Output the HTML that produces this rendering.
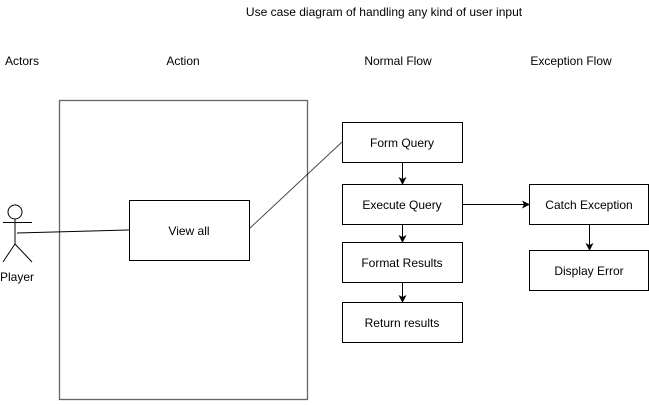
<!DOCTYPE html>
<html><head><style>body{margin:0;background:#fff}</style></head><body>
<svg width="649" height="401" xmlns="http://www.w3.org/2000/svg" font-family="Liberation Sans, Arial, sans-serif" font-size="12" fill="#000">
<defs><marker id="a" markerWidth="8" markerHeight="8" refX="7" refY="4" orient="auto" markerUnits="userSpaceOnUse"><path d="M0,0 L8,4 L0,8 L2,4 z" fill="#000"/></marker></defs>
<text x="384" y="16" text-anchor="middle">Use case diagram of handling any kind of user input</text>
<text x="22" y="65" text-anchor="middle">Actors</text>
<text x="183" y="65" text-anchor="middle">Action</text>
<text x="398" y="65" text-anchor="middle">Normal Flow</text>
<text x="571" y="65" text-anchor="middle">Exception Flow</text>
<rect x="59.5" y="100.5" width="248" height="299" fill="none" stroke="#666" stroke-width="1.3"/>
<g stroke="#000" fill="none">
<circle cx="15" cy="212" r="7" fill="#fff"/>
<line x1="15" y1="219" x2="15" y2="244"/>
<line x1="3" y1="222.5" x2="32" y2="222.5"/>
<line x1="15" y1="244" x2="3" y2="262"/>
<line x1="15" y1="244" x2="32" y2="262"/>
<line x1="17" y1="233" x2="129" y2="230"/>
<line x1="249" y1="229" x2="342" y2="142" stroke-opacity="0.7"/>
<rect x="129.5" y="200.5" width="120" height="60" fill="#fff"/>
<rect x="342.5" y="122.5" width="120" height="40" fill="#fff"/>
<rect x="342.5" y="184.5" width="120" height="40" fill="#fff"/>
<rect x="342.5" y="242.5" width="120" height="40" fill="#fff"/>
<rect x="342.5" y="302.5" width="120" height="40" fill="#fff"/>
<rect x="529.5" y="184.5" width="119" height="40" fill="#fff"/>
<rect x="529.5" y="250.5" width="119" height="40" fill="#fff"/>
<line x1="402.5" y1="163" x2="402.5" y2="184" marker-end="url(#a)"/>
<line x1="402.5" y1="225" x2="402.5" y2="242" marker-end="url(#a)"/>
<line x1="402.5" y1="283" x2="402.5" y2="302" marker-end="url(#a)"/>
<line x1="463" y1="204.5" x2="529" y2="204.5" marker-end="url(#a)"/>
<line x1="589.5" y1="225" x2="589.5" y2="250" marker-end="url(#a)"/>
</g>
<text x="17" y="281" text-anchor="middle">Player</text>
<text x="189" y="235" text-anchor="middle">View all</text>
<text x="402" y="147" text-anchor="middle">Form Query</text>
<text x="402" y="209" text-anchor="middle">Execute Query</text>
<text x="402" y="267" text-anchor="middle">Format Results</text>
<text x="402" y="327" text-anchor="middle">Return results</text>
<text x="589" y="209" text-anchor="middle">Catch Exception</text>
<text x="589" y="275" text-anchor="middle">Display Error</text>
</svg>
</body></html>
